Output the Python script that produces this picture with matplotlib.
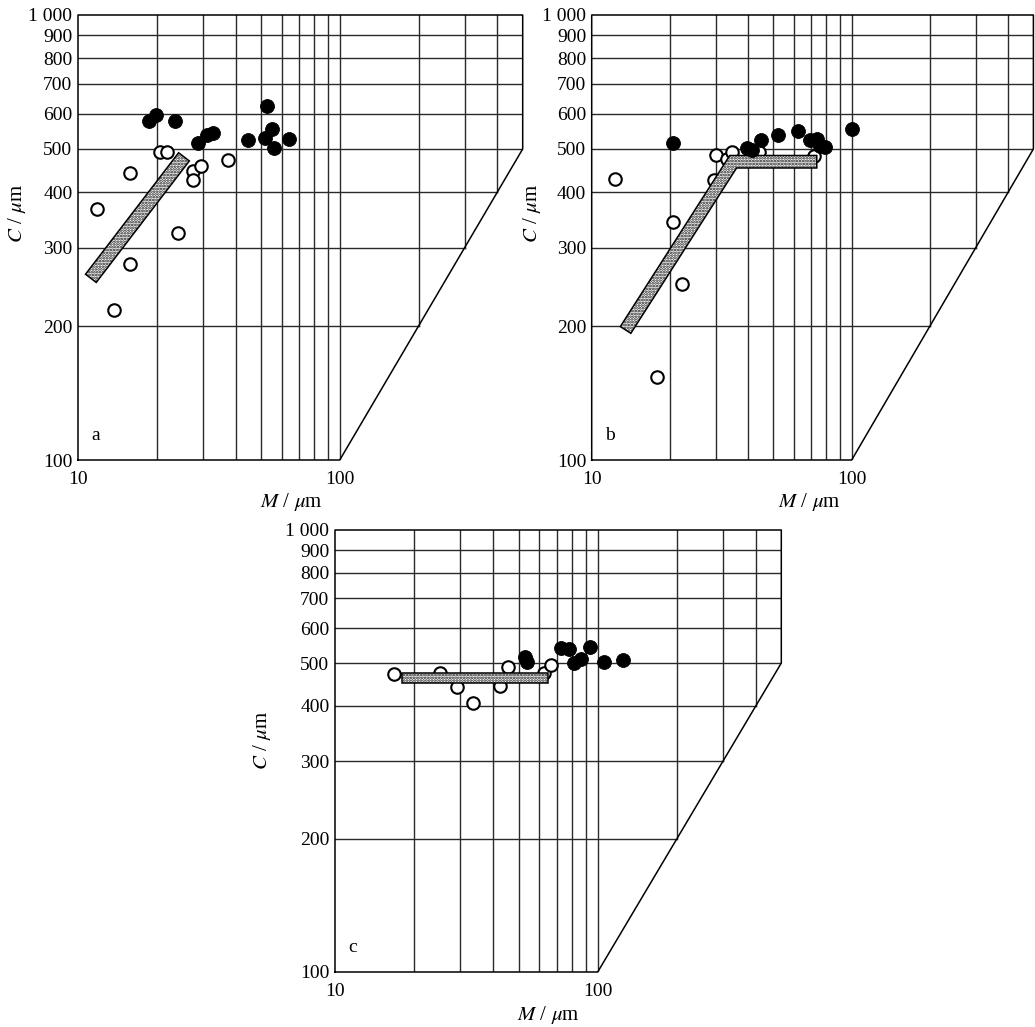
import numpy as np
import matplotlib
matplotlib.use('Agg')
import matplotlib.pyplot as plt
from matplotlib.patches import Polygon
from matplotlib.ticker import NullLocator

plt.rcParams['font.family'] = ['Liberation Serif', 'DejaVu Serif']
plt.rcParams['mathtext.fontset'] = 'stix'
plt.rcParams['hatch.linewidth'] = 1.3

# panel a
a_open_M = [11.8, 13.7, 15.8, 15.8, 20.6, 21.8, 24.2, 27.5, 27.6, 29.5, 37.4]
a_open_C = [366, 217, 441, 275, 492, 492, 324, 447, 426, 457, 473]
a_fill_M = [18.6, 19.8, 23.4, 28.7, 31.2, 32.9, 44.6, 51.6, 52.7, 55.1, 56.2, 64.0]
a_fill_C = [578, 596, 579, 515, 537, 542, 524, 528, 624, 554, 503, 526]
a_band_M = [11.2, 25.4]
a_band_C = [256, 480]

# panel b
b_open_M = [12.3, 17.9, 20.6, 22.3, 29.5, 30.1, 33.1, 34.6, 44.1, 71.6]
b_open_C = [429, 154, 343, 249, 425, 485, 474, 493, 492, 482]
b_fill_M = [20.5, 39.5, 41.3, 44.9, 52.2, 62.0, 69.1, 73.4, 75.5, 78.9, 100.2]
b_fill_C = [515, 503, 497, 524, 537, 548, 524, 527, 508, 506, 553]
b_band_M = [13.5, 35.0, 73.4]
b_band_C = [196, 468, 468]

# panel c
c_open_M = [16.8, 25.1, 29.1, 33.4, 42.6, 45.7, 62.5, 66.6]
c_open_C = [473, 475, 441, 407, 443, 491, 475, 496]
c_fill_M = [52.9, 54.0, 72.5, 78.0, 81.2, 86.2, 93.5, 106, 125]
c_fill_C = [517, 503, 541, 539, 500, 511, 545, 503, 508]
c_band_M = [18.0, 64.9]
c_band_C = [462, 462]

y_ticks = [100, 200, 300, 400, 500, 600, 700, 800, 900, 1000]
y_labels = ['100', '200', '300', '400', '500', '600', '700', '800', '900', '1 000']
x_ticks = [10, 100]
x_labels = ['10', '100']

W, H = 1035, 1027
fig = plt.figure(figsize=(W / 100, H / 100), dpi=100)


def make_ax(x0, x1, ytop, ybot):
    return fig.add_axes([x0 / W, 1 - ybot / H, (x1 - x0) / W, (ybot - ytop) / H])


def band(ax, xs, ys, width):
    # thick strip along a polyline, built in pixel space
    p = ax.transData.transform(np.column_stack([xs, ys]))
    segs = np.diff(p, axis=0)
    nrm = np.column_stack([-segs[:, 1], segs[:, 0]])
    nrm = nrm / np.hypot(nrm[:, 0], nrm[:, 1])[:, None]
    offs = []
    for i in range(len(p)):
        if i == 0:
            v = nrm[0]
        elif i == len(p) - 1:
            v = nrm[-1]
        else:
            m = nrm[i - 1] + nrm[i]
            m = m / np.hypot(*m)
            v = m / np.dot(m, nrm[i])
        offs.append(v * width / 2)
    offs = np.array(offs)
    poly = np.vstack([p + offs, (p - offs)[::-1]])
    poly = ax.transData.inverted().transform(poly)
    ax.add_patch(Polygon(poly, closed=True, facecolor='white', edgecolor='#1a1a1a',
                         hatch='......', lw=0, zorder=4))
    ax.add_patch(Polygon(poly, closed=True, fill=False, edgecolor='black', lw=1.1, zorder=4))


def panel(ax, om, oc, fm, fc, bm, bc, bw, letter):
    ax.set_xscale('log')
    ax.set_yscale('log')
    ax.set_xlim(10, 500)
    ax.set_ylim(100, 1000)
    for s in ax.spines.values():
        s.set_visible(False)
    ax.set_xticks(x_ticks, x_labels)
    ax.set_yticks(y_ticks, y_labels)
    ax.xaxis.set_minor_locator(NullLocator())
    ax.yaxis.set_minor_locator(NullLocator())
    ax.tick_params(axis='both', length=0, labelsize=14)
    ax.tick_params(axis='x', pad=8)
    ax.tick_params(axis='y', pad=4)

    gc = '#2a2a2a'
    for x in [20, 30, 40, 50, 60, 70, 80, 90, 100, 200, 300, 400]:
        ax.plot([x, x], [max(100, x), 1000], color=gc, lw=1.0, zorder=1)
    for y in [200, 300, 400, 500, 600, 700, 800, 900]:
        ax.plot([10, min(500, y)], [y, y], color=gc, lw=1.0, zorder=1)
    ax.plot([10, 10, 500, 500, 100, 10], [100, 1000, 1000, 500, 100, 100],
            color='black', lw=1.1, zorder=2, clip_on=False)

    ax.plot(om, oc, 'o', ms=9, mfc='white', mec='black', mew=1.5, zorder=3, clip_on=False)
    band(ax, bm, bc, bw)
    ax.plot(fm, fc, 'o', ms=10, mfc='black', mec='black', mew=0.6, zorder=5, clip_on=False)

    ax.text(0.03, 0.045, letter, transform=ax.transAxes, fontsize=14)


axa = make_ax(78, 522.7, 15, 460)
panel(axa, a_open_M, a_open_C, a_fill_M, a_fill_C, a_band_M, a_band_C, 13.5, 'a')
axb = make_ax(591.7, 1033.4, 15, 460)
panel(axb, b_open_M, b_open_C, b_fill_M, b_fill_C, b_band_M, b_band_C, 12.5, 'b')
axc = make_ax(335, 781.3, 530, 972)
panel(axc, c_open_M, c_open_C, c_fill_M, c_fill_C, c_band_M, c_band_C, 10, 'c')

xlab = r'$M$ / $\mu$m'
ylab = r'$C$ / $\mu$m'
for (xx, yy) in [(291, 502), (809, 502), (548, 1015)]:
    fig.text(xx / W, 1 - yy / H, xlab, ha='center', va='center', fontsize=15)
for (xx, yy) in [(17, 213), (532, 213), (262, 740)]:
    fig.text(xx / W, 1 - yy / H, ylab, ha='center', va='center', fontsize=15, rotation=90)

fig.savefig('out.png', dpi=100)
